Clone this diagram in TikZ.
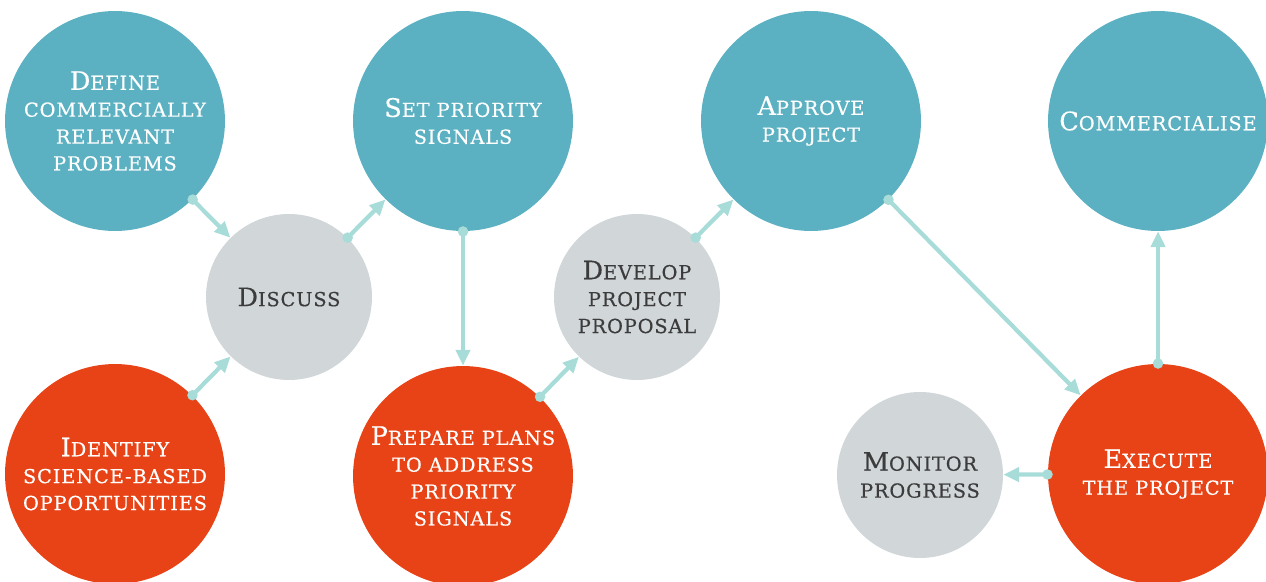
\documentclass[tikz,border=0pt]{standalone}
\usepackage{fontspec}
\setmainfont{DejaVu Serif}[LetterSpace=4.5, FakeBold=0.4]
\usetikzlibrary{arrows.meta}

\definecolor{stepteal}{HTML}{5BB1C1}
\definecolor{steporange}{HTML}{E84316}
\definecolor{stepgrey}{HTML}{D1D6D9}
\definecolor{linkteal}{HTML}{A8DCD8}
\definecolor{darktext}{HTML}{3C3C3C}

% large first letter, the rest in small capitals
\newcommand{\stepinitial}[1]{{\fontsize{14.5}{15.3}\selectfont #1}}

\begin{document}
\begin{tikzpicture}[x=0.02cm, y=-0.02cm,
  bigstep/.style={circle, inner sep=0pt, minimum size=4.4cm, text=white,
    align=center, font=\fontsize{11}{15.3}\selectfont},
  smallstep/.style={circle, inner sep=0pt, minimum size=3.32cm, fill=stepgrey,
    text=darktext, align=center, font=\fontsize{11}{15.3}\selectfont},
  plan/.style={bigstep, fill=stepteal},
  act/.style={bigstep, fill=steporange},
  link/.style={draw=linkteal, line width=2.4pt, shorten <=-2.8pt,
    {Circle[length=5.8pt]}-{Triangle[length=9pt, width=8pt]}}]

\useasboundingbox (0,0) rectangle (1266,581);

% Top row
\node[plan] (define) at (115,121) {\stepinitial{D}EFINE\\COMMERCIALLY\\RELEVANT\\PROBLEMS};
\node[plan] (signals) at (463,121) {\stepinitial{S}ET PRIORITY\\SIGNALS};
\node[plan] (approve) at (811,121) {\stepinitial{A}PPROVE\\PROJECT};
\node[plan] (market) at (1158,121) {\stepinitial{C}OMMERCIALISE};

% Middle row
\node[smallstep] (discuss) at (289,297) {\stepinitial{D}ISCUSS};
\node[smallstep] (develop) at (637,297) {\stepinitial{D}EVELOP\\PROJECT\\PROPOSAL};
\node[smallstep] (monitor) at (920,475) {\stepinitial{M}ONITOR\\PROGRESS};

% Bottom row
\node[act] (identify) at (115,474) {\stepinitial{I}DENTIFY\\SCIENCE-BASED\\OPPORTUNITIES};
\node[act] (prepare) at (463,476) {\stepinitial{P}REPARE PLANS\\TO ADDRESS\\PRIORITY\\SIGNALS};
\node[act] (execute) at (1158,474) {\stepinitial{E}XECUTE\\THE PROJECT};

% Links
\draw[link] (define) -- (discuss);
\draw[link] (identify) -- (discuss);
\draw[link] (discuss) -- (signals);
\draw[link] (signals) -- (prepare);
\draw[link] (prepare) -- (develop);
\draw[link] (develop) -- (approve);
\draw[link] (approve) -- (execute);
\draw[link] (execute) -- (market);
\draw[link] (execute) -- (monitor);

\end{tikzpicture}
\end{document}
